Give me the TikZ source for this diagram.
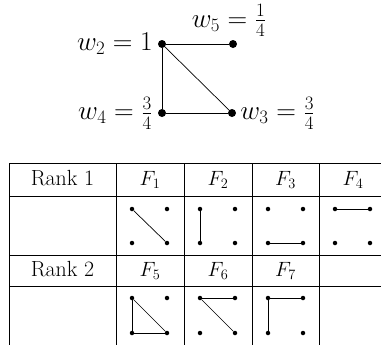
\documentclass[tikz,border=0pt]{standalone}
\usetikzlibrary{positioning}
\newcommand\wlab[1]{\scalebox{1.1}{$#1$}}
\tikzset{
  vx/.style={circle, fill=black, inner sep=0pt, minimum size=8bp},
  dt/.style={circle, fill=black, inner sep=0pt, minimum size=4.5bp},
  ed/.style={draw=black, line width=0.7bp},
  wl/.style={font=\fontsize{25}{30}\selectfont, inner sep=2bp},
  tx/.style={font=\fontsize{22}{26}\selectfont, anchor=base, inner sep=0pt},
  ln/.style={draw=black, line width=0.8bp},
}
\begin{document}
\begin{tikzpicture}[x=1bp, y=-1bp]
\clip (0,0) rectangle (381,345);

% weighted graph
\node[vx] (w2) at (162,44) {};
\node[vx] (w5) at (233,44) {};
\node[vx] (w4) at (162,113) {};
\node[vx] (w3) at (232,113) {};
\node[wl, left=3bp of w2] (l2) {\wlab{w_2 = 1}};
\node[wl, above=1bp of w5, xshift=-4bp] (l5) {\wlab{w_5 = \frac{1}{4}}};
\node[wl, left=3bp of w4] (l4) {\wlab{w_4 = \frac{3}{4}}};
\node[wl, right=2bp of w3] (l3) {\wlab{w_3 = \frac{3}{4}}};
\draw[ed] (w2) -- (w5);
\draw[ed] (w2) -- (w4);
\draw[ed] (w2) -- (w3);
\draw[ed] (w4) -- (w3);

% table rules
\foreach \y in {163.5,196,255,286}
  \draw[ln] (9,\y) -- (400,\y);
\foreach \x in {9,116,184,252,319}
  \draw[ln] (\x,163.5) -- (\x,350);

% headers
\node[tx] (r1) at (62.5,185) {Rank 1};
\node[tx] (r2) at (62.5,276) {Rank 2};
\node[tx] (h1) at (150,185) {$F_1$};
\node[tx] (h2) at (218,185) {$F_2$};
\node[tx] (h3) at (285.5,185) {$F_3$};
\node[tx] (h4) at (353,185) {$F_4$};
\node[tx] (h5) at (150,276) {$F_5$};
\node[tx] (h6) at (218,276) {$F_6$};
\node[tx] (h7) at (285.5,276) {$F_7$};

% four dots per cell
\foreach \f/\x/\y/\b in {1/116/209/243, 2/184/209/243, 3/252/209/243, 4/319/209/243,
                         5/116/298/333, 6/184/298/333, 7/252/298/333} {
  \node[dt] (tl\f) at (\x+16,\y) {};
  \node[dt] (tr\f) at (\x+51,\y) {};
  \node[dt] (bl\f) at (\x+16,\b) {};
  \node[dt] (br\f) at (\x+51,\b) {};
}

% rank 1 flats
\draw[ed] (tl1) -- (br1);
\draw[ed] (tl2) -- (bl2);
\draw[ed] (bl3) -- (br3);
\draw[ed] (tl4) -- (tr4);

% rank 2 flats
\draw[ed] (tl5) -- (br5);
\draw[ed] (tl5) -- (bl5);
\draw[ed] (bl5) -- (br5);
\draw[ed] (tl6) -- (tr6);
\draw[ed] (tl6) -- (br6);
\draw[ed] (tl7) -- (tr7);
\draw[ed] (tl7) -- (bl7);
\end{tikzpicture}
\end{document}
